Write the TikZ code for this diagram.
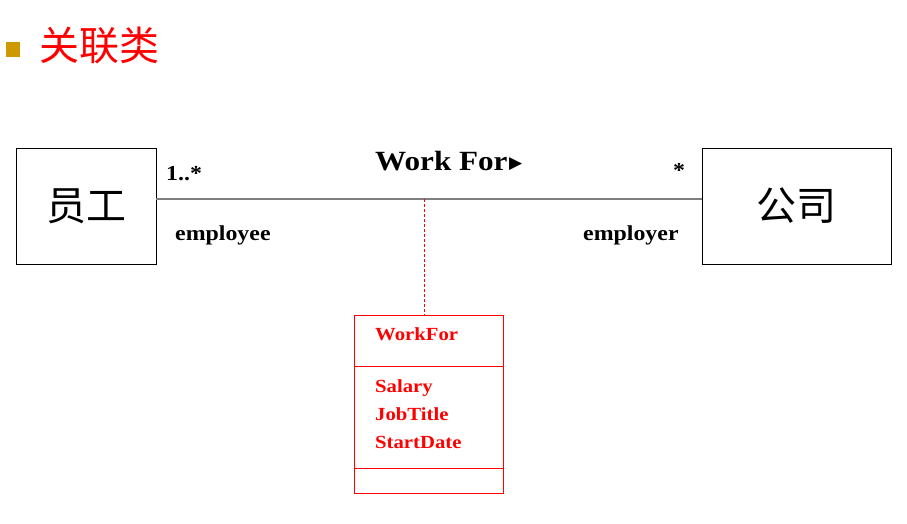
\documentclass[tikz,border=0pt]{standalone}
\usepackage{fontspec}
\setmainfont{Liberation Serif}
\newfontfamily\latwide[FakeStretch=1.12]{Liberation Serif}
\newfontfamily\cjk{Noto Sans CJK SC}
\newfontfamily\symfont{DejaVu Sans}
\definecolor{bulletgold}{HTML}{CC9900}
\definecolor{assocgray}{HTML}{7F7F7F}
\tikzset{
  classbox/.style={draw=black, line width=0.9pt, inner sep=0pt, fill=white,
    font=\cjk\fontsize{40}{40}\selectfont},
  assocline/.style={draw=assocgray, line width=1.4pt},
  linkline/.style={draw=red, line width=0.8pt, dash pattern=on 3pt off 2pt},
  assocbox/.style={draw=red, line width=0.9pt, inner sep=0pt},
  divider/.style={draw=red, line width=0.9pt},
  endlabel/.style={inner sep=0pt, anchor=base west,
    font=\latwide\bfseries\fontsize{21.3}{21.3}\selectfont},
  attr/.style={inner sep=0pt, anchor=base west, text=red,
    font=\latwide\bfseries\fontsize{18.5}{18.5}\selectfont},
}
\begin{document}
\begin{tikzpicture}[x=1pt, y=-1pt]
  \useasboundingbox (0,0) rectangle (907,523);

  % slide heading
  \node[fill=bulletgold, minimum width=14.5pt, minimum height=14.5pt, inner sep=0pt]
    (bullet) at (13,49.5) {};
  \node[anchor=west, inner sep=0pt, text=red, font=\cjk\fontsize{40}{40}\selectfont]
    (title) at (39,45) {关联类};

  % the two classes
  \node[classbox, minimum width=140pt, minimum height=116pt] (emp) at (86,206) {员工};
  \node[classbox, minimum width=189pt, minimum height=116pt] (co) at (796.5,206) {公司};

  % association
  \coordinate (mid) at (424,199);
  \draw[assocline] (emp.east |- mid) -- (co.west |- mid);

  % association name and role ends
  \node[inner sep=0pt, anchor=base west,
        font=\latwide\bfseries\fontsize{27.8}{27.8}\selectfont] (name) at (375,170)
    {Work For\hspace{1.5pt}\raisebox{2pt}{\symfont\fontsize{17}{17}\selectfont ▶}};
  \node[endlabel] (m1) at (166,180) {1..*};
  \node[endlabel] (m2) at (673,177) {*};
  \node[endlabel] (r1) at (175,240) {employee};
  \node[endlabel] (r2) at (583,240) {employer};

  % association class
  \node[assocbox, minimum width=149pt, minimum height=178pt] (wf) at (428.5,404) {};
  \draw[linkline] (mid) -- (mid |- wf.north);
  \draw[divider] (wf.west |- 0,366) -- (wf.east |- 0,366);
  \draw[divider] (wf.west |- 0,468.5) -- (wf.east |- 0,468.5);
  \node[attr] (wfname) at (375,340) {WorkFor};
  \node[attr] (a1) at (375,392) {Salary};
  \node[attr] (a2) at (375,420) {JobTitle};
  \node[attr] (a3) at (375,448) {StartDate};
\end{tikzpicture}
\end{document}
